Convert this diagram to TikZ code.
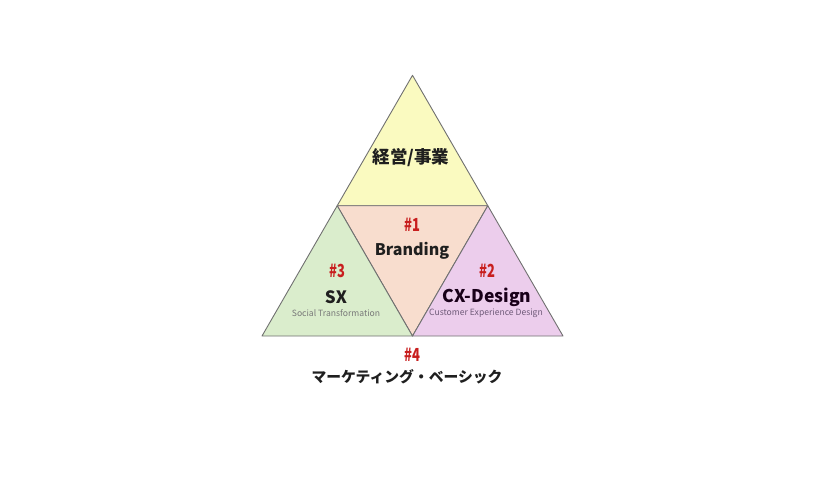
\documentclass[tikz,border=0pt]{standalone}
\usepackage{fontspec}
\setmainfont{Noto Sans CJK JP}

\definecolor{topyellow}{RGB}{250,250,192}
\definecolor{midpeach}{RGB}{248,221,206}
\definecolor{leftgreen}{RGB}{218,237,204}
\definecolor{rightpink}{RGB}{236,205,236}
\definecolor{edgegray}{RGB}{112,112,112}
\definecolor{numred}{RGB}{200,30,30}
\definecolor{subgray}{RGB}{120,120,120}
\definecolor{subpurple}{RGB}{110,90,120}

\tikzset{
    piece/.style={draw=edgegray, line width=0.9pt, line join=round},
    title/.style={font=\bfseries\fontsize{16}{18}\selectfont, text=black!88, inner sep=0pt},
    number/.style={font=\bfseries\fontsize{18}{20}\selectfont, text=numred, inner sep=0pt, xscale=0.72},
    subtitle/.style={font=\fontsize{8.6}{10}\selectfont, inner sep=0pt}
}

\begin{document}
\begin{tikzpicture}[x=1pt, y=-1pt]
    \useasboundingbox (0,0) rectangle (840,491);

    \coordinate (top) at (412.5, 75.3);
    \coordinate (ml) at (337.2, 205.7);
    \coordinate (mr) at (487.8, 205.7);
    \coordinate (bl) at (262, 336);
    \coordinate (bm) at (412.5, 336);
    \coordinate (br) at (563, 336);

    \filldraw[piece, fill=topyellow] (top) -- (ml) -- (mr) -- cycle;
    \filldraw[piece, fill=midpeach] (ml) -- (mr) -- (bm) -- cycle;
    \filldraw[piece, fill=leftgreen] (ml) -- (bm) -- (bl) -- cycle;
    \filldraw[piece, fill=rightpink] (mr) -- (br) -- (bm) -- cycle;

    \node[title, font=\bfseries\fontsize{17.5}{20}\selectfont] (keiei) at (411, 158) {経営/事業};

    \node[number] (num1) at (412, 225) {\#1};
    \node[title] (branding) at (412, 251) {Branding};

    \node[number] (num3) at (337, 271) {\#3};
    \node[title, font=\bfseries\fontsize{17}{19}\selectfont] (sx) at (336, 297) {SX};
    \node[subtitle, text=subgray] (sxsub) at (336, 313) {Social Transformation};

    \node[number] (num2) at (487, 271) {\#2};
    \node[title, font=\bfseries\fontsize{17.5}{19}\selectfont, text=black!80!violet] (cx) at (487, 297) {CX-Design};
    \node[subtitle, text=subpurple] (cxsub) at (486, 313) {Customer Experience Design};

    \node[number] (num4) at (412, 355) {\#4};
    \node[title, font=\bfseries\fontsize{14.8}{17}\selectfont] (marketing) at (407, 377) {マーケティング・ベーシック};
\end{tikzpicture}
\end{document}
